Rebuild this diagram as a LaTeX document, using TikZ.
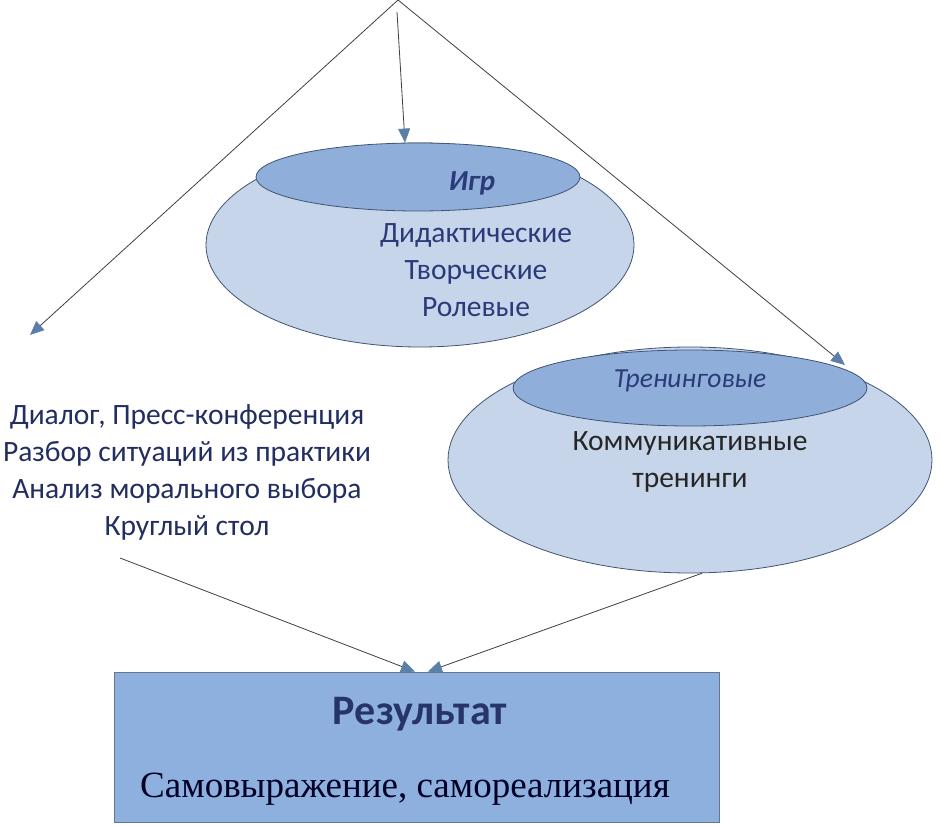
\documentclass[tikz,border=0pt]{standalone}
\usepackage{fontspec}
\setmainfont{Carlito}
\newfontfamily\timesfont{Liberation Serif}
\usetikzlibrary{arrows.meta,positioning,shapes.geometric}
\definecolor{outerblue}{HTML}{C7D5EB}
\definecolor{innerblue}{HTML}{8FAEDA}
\definecolor{boxblue}{HTML}{8DB0DE}
\definecolor{edgeblue}{HTML}{3F5573}
\definecolor{navytext}{HTML}{2B3A78}
\definecolor{tipblue}{HTML}{5B7FA6}
\tikzset{
  outerpan/.style={ellipse,draw=edgeblue,fill=outerblue,line width=0.8pt,inner sep=0pt},
  innerpan/.style={ellipse,draw=edgeblue,fill=innerblue,line width=0.8pt,inner sep=0pt},
  link/.style={draw=black!75,line width=0.8pt,-{Triangle[length=14pt,width=12pt,color=tipblue]}},
  bodytext/.style={align=center,font=\fontsize{29.5}{37}\selectfont},
}
\begin{document}
\begin{tikzpicture}[x=1pt,y=-1pt]
  \useasboundingbox[fill=white] (0,0) rectangle (940,826);
  % --- apex and free ends ---
  \coordinate (apex) at (398,0);
  \coordinate (midstart) at (397,12);
  \coordinate (leftend) at (30,335);
  \coordinate (rightend) at (845,365);
  \coordinate (methodsfoot) at (120,558);
  % --- game ellipse ---
  \node[outerpan,minimum width=428pt,minimum height=204pt] (games) at (420,245) {};
  \node[innerpan,minimum width=324pt,minimum height=68pt] (gamescap) at (418,177) {};
  \node[navytext,font=\fontsize{29}{32}\selectfont\bfseries\itshape] (gamestitle) at (472,183) {Игр};
  \node[bodytext,navytext] (gameslist) at (476,270) {Дидактические\\Творческие\\Ролевые};
  % --- training ellipse ---
  \node[outerpan,minimum width=484pt,minimum height=226pt] (training) at (690,460) {};
  \node[innerpan,minimum width=354pt,minimum height=76pt] (trainingcap) at (690,388) {};
  \node[navytext,font=\fontsize{27.5}{30}\selectfont\itshape] (trainingtitle) at (690,381) {Тренинговые};
  \node[bodytext,black!85] (traininglist) at (690,462) {Коммуникативные\\тренинги};
  % --- methods list ---
  \node[bodytext,navytext!80!black] (methods) at (187,472)
    {Диалог, Пресс-конференция\\Разбор ситуаций из практики\\Анализ морального выбора\\Круглый стол};
  % --- result box ---
  \node[draw=edgeblue!80,fill=boxblue,line width=0.8pt,minimum width=605pt,minimum height=150pt,inner sep=0pt] (result) at (417,747) {};
  \node[navytext!90!black,font=\fontsize{42}{46}\selectfont\bfseries] (resulttitle) at (420,714) {Результат};
  \node[black!85!blue,font=\timesfont\fontsize{37}{42}\selectfont] (resultline) at (405,789) {Самовыражение, самореализация};
  % --- connectors ---
  \draw[link] (apex) -- (leftend);
  \draw[link] (midstart) -- (gamescap.north -| 405,0);
  \draw[link] (apex) -- (rightend);
  \draw[link] (methodsfoot) -- (result.north -| 415,0);
  \draw[link] (training.-84) -- (result.north -| 428,0);
\end{tikzpicture}
\end{document}
